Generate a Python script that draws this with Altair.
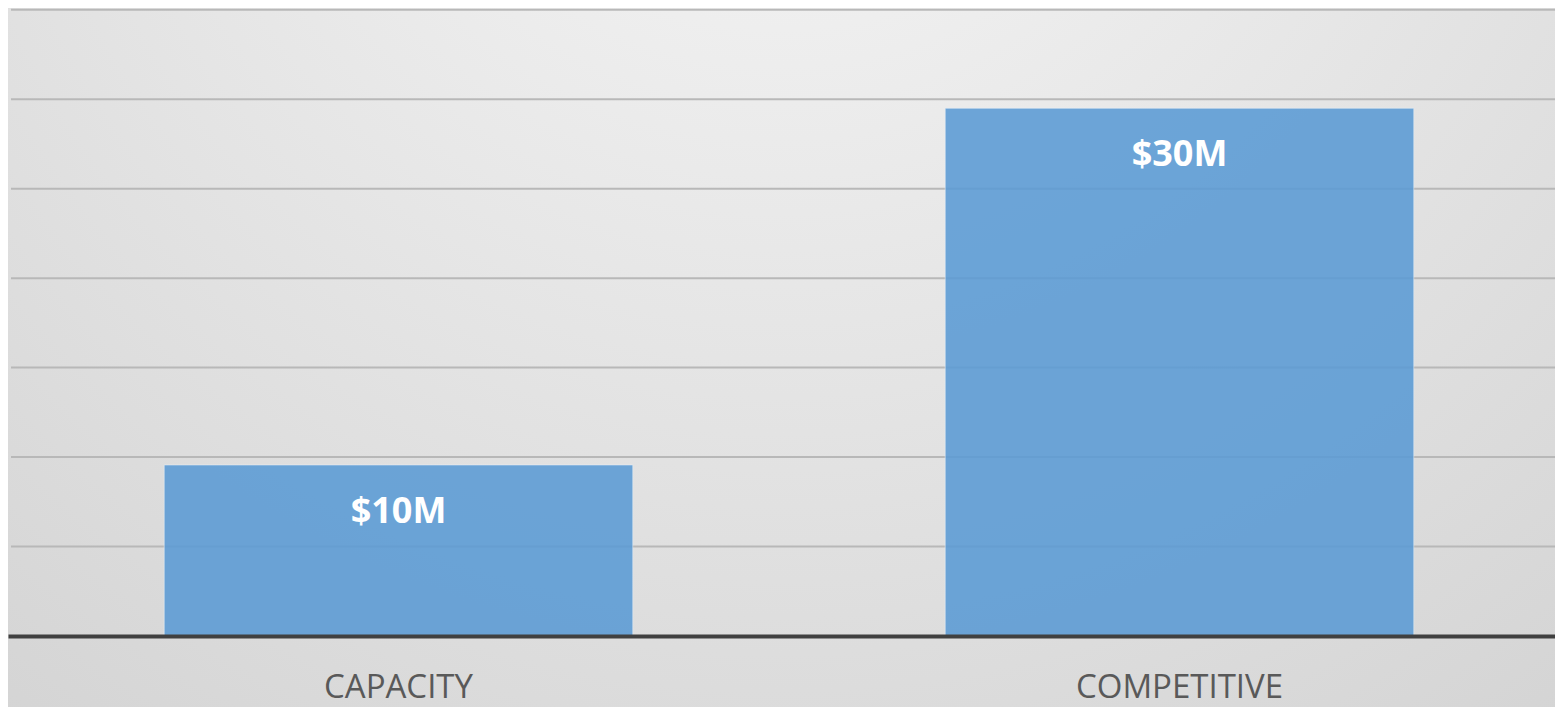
import altair as alt
import pandas as pd

categories = ["CAPACITY", "COMPETITIVE"]
values = [9.56, 29.5]
labels = ["$10M", "$30M"]
grid_values = [5, 10, 15, 20, 25, 30, 35]

W, H = 1547, 628
BOTTOM = 71

df = pd.DataFrame({"cat": categories, "val": values, "lab": labels})
grid_df = pd.DataFrame({"v": grid_values})
bg_df = pd.DataFrame({"a": [0]})

xscale = alt.Scale(domain=categories, range=[0, 1562], paddingInner=0.4, paddingOuter=0.2)
yscale = alt.Scale(domain=[0, 35.1], nice=False, zero=True)

bg = alt.Chart(bg_df).mark_rect(
    color=alt.RadialGradient(
        gradient="radial",
        x1=0.5, y1=0.05, r1=0.0,
        x2=0.5, y2=0.05, r2=0.95,
        stops=[
            alt.GradientStop(offset=0, color="#f8f8f8"),
            alt.GradientStop(offset=1, color="#d0d0d0"),
        ],
    )
).encode(
    x=alt.value(0), x2=alt.value(W), y=alt.value(0), y2=alt.value(H + BOTTOM)
)

grid = alt.Chart(grid_df).mark_rule(color="#b8b8b8", strokeWidth=2).encode(
    x=alt.value(3), x2=alt.value(W),
    y=alt.Y("v:Q", scale=yscale, axis=None),
)

bars = alt.Chart(df).mark_bar(
    color="#5b9bd5", opacity=0.88, stroke="#e8f0f8", strokeWidth=1, strokeOpacity=0.6
).encode(
    x=alt.X("cat:N", scale=xscale, sort=categories,
            axis=alt.Axis(title=None, labelFontSize=33, labelFont="Open Sans",
                          labelColor="#595959", labelPadding=35, ticks=False,
                          labelLimit=0,
                          domainColor="#404040", domainWidth=4, labelAngle=0,
                          zindex=1)),
    y=alt.Y("val:Q", scale=yscale, axis=None),
)

text = alt.Chart(df).mark_text(
    color="white", fontSize=36, fontWeight="bold", font="Open Sans",
    baseline="middle", dy=47
).encode(
    x=alt.X("cat:N", scale=xscale, sort=categories),
    y=alt.Y("val:Q", scale=yscale),
    text="lab:N",
)

chart = alt.layer(bg, grid, bars, text).properties(
    width=W, height=H,
    autosize=alt.AutoSizeParams(type="none"),
    padding={"left": 0, "top": 0, "right": 0, "bottom": BOTTOM},
).configure_view(strokeWidth=0).configure(background="#d4d4d4")

chart.save("out.html", embed_options={"renderer": "svg", "actions": False})
